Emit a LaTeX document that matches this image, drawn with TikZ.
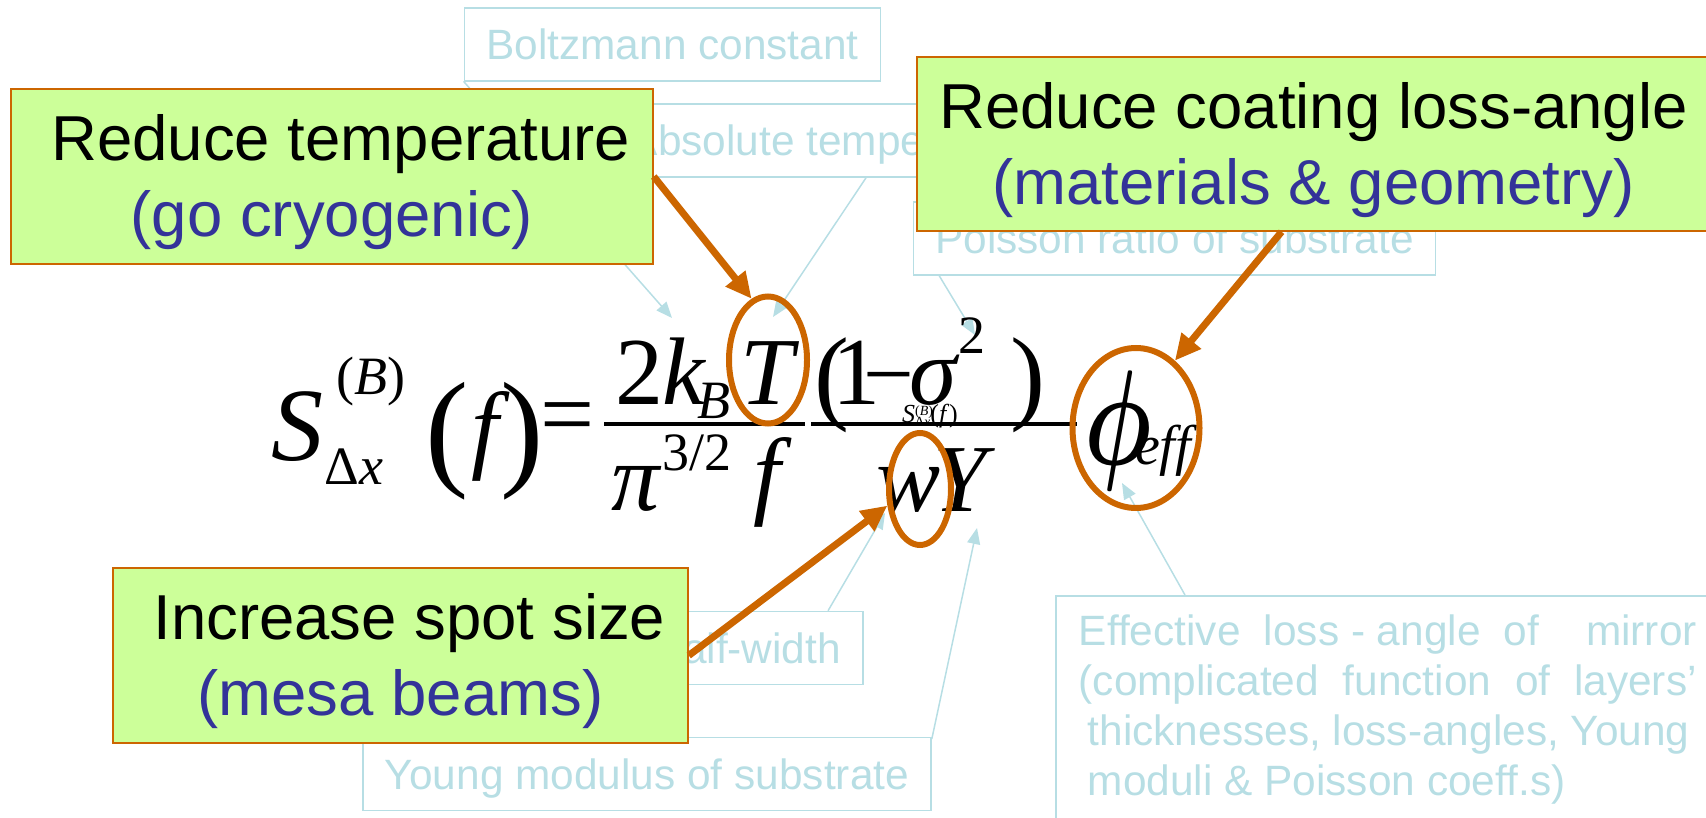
\documentclass[tikz,border=0pt]{standalone}
\usepackage{fontspec}
\setmainfont{Liberation Sans}
\newfontfamily\serif{Liberation Serif}
\usetikzlibrary{arrows.meta, shapes.geometric}
\definecolor{pale}{RGB}{183,222,228}
\definecolor{lime}{RGB}{204,255,153}
\definecolor{rust}{RGB}{204,102,0}
\definecolor{ink}{RGB}{51,51,153}
\tikzset{
  remark/.style={draw=pale, line width=1.5pt, text=pale, font=\fontsize{42.4}{50}\selectfont,
    inner xsep=22pt, minimum height=73pt, text height=30pt, text depth=0pt},
  note/.style={draw=pale, line width=1.5pt, text=pale, font=\fontsize{42.4}{50}\selectfont,
    align=left, inner xsep=23pt, inner ysep=19pt, anchor=north west},
  idea/.style={draw=rust, line width=1.5pt, fill=lime, align=center,
    font=\fontsize{63.5}{76}\selectfont, inner sep=0pt},
  ring/.style={ellipse, draw=rust, line width=6pt, inner sep=0pt},
  hint/.style={rust, line width=7pt, -{Triangle[length=26pt,width=24pt]}},
  pointer/.style={pale, line width=1.5pt, -{Triangle[length=16pt,width=13pt]}},
  bar/.style={line width=4pt}
}
\newcommand{\glyph}[5]{\node[anchor=base, inner sep=0pt, font=\serif\fontsize{#4}{#4}\selectfont] (#1) at (#2,#3) {#5};}
\newcommand{\lift}{\rule{0pt}{58pt}}

\begin{document}
\begin{tikzpicture}[x=1pt, y=-1pt]
  \useasboundingbox (0,0) rectangle (1706,818);

  % notes on the symbols
  \node[remark] (bolt) at (672.5,44.5) {Boltzmann constant};
  \node[remark] (abs) at (832.5,140.5) {Absolute temperature};
  \node[remark] (poisson) at (1174.5,238.5) {Poisson ratio of substrate};
  \node[remark] (half) at (689,648) {Beam half-width};
  \node[remark] (young) at (647,774) {Young modulus of substrate};
  \node[note] (effect) at (1055,595) {\makebox[618pt][l]{Effective\hfill loss - angle\hfill of\hfill\hfill mirror}\\
    \makebox[618pt][l]{(complicated\hfill function\hfill of\hfill layers’}\\
    \hspace*{9pt}thicknesses, loss-angles, Young\\
    \hspace*{9pt}moduli \& Poisson coeff.s)};

  \coordinate (kTip) at (672,318);
  \coordinate (TTip) at (773,317);
  \coordinate (sigTip) at (975,335);
  \coordinate (wTip) at (885,513);
  \coordinate (YTip) at (977,528);
  \coordinate (phiTip) at (1122,483);
  \draw[pointer] (bolt.190) -- (kTip);
  \draw[pointer] (abs.312) -- (TTip);
  \draw[pointer] (poisson.189) -- (sigTip);
  \draw[pointer] (half.15.6) -- (wTip);
  \draw[pointer] (young.7.5) -- (YTip);
  \draw[pointer] ([xshift=130pt]effect.north west) -- (phiTip);

  % the formula
  \glyph{S}{297}{460}{104}{\itshape S}
  \glyph{Ssup}{371}{394}{54}{(\textit{B})}
  \glyph{Ssub}{354}{484}{54}{Δ\textit{x}}
  \glyph{lpf}{447}{472}{130}{(}
  \glyph{f}{485}{460}{98}{\itshape f}
  \glyph{rpf}{522}{472}{130}{)}
  \glyph{eq}{568}{446}{96}{=}
  \draw[bar] (604,424) -- (805,424);
  \glyph{two}{639}{404}{96}{2}
  \glyph{k}{684}{404}{96}{\itshape k}
  \glyph{kB}{714}{418}{54}{\itshape B}
  \glyph{T}{767}{404}{96}{\itshape T}
  \glyph{pi}{636}{510}{96}{\itshape π}
  \glyph{pisup}{697}{470}{54}{3/2}
  \glyph{fden}{767}{506}{98}{\itshape f}
  \draw[bar] (811,424) -- (1077,424);
  \glyph{lp}{832}{410}{105}{(}
  \glyph{one}{856}{404}{96}{1}
  \glyph{minus}{889}{404}{90}{−}
  \glyph{sigma}{933}{404}{96}{\itshape σ}
  \glyph{sq}{972}{354}{54}{2}
  \glyph{rp}{1028}{410}{105}{)}
  \glyph{echo}{930}{422}{26}{\textit{S}\rlap{\raisebox{7pt}{\fontsize{14}{14}\selectfont(\textit{B})}}\raisebox{-4pt}{\fontsize{14}{14}\selectfont Δ\textit{x}}(\textit{f})}
  \glyph{w}{909}{511}{96}{\itshape w}
  \glyph{Y}{960}{511}{96}{\itshape Y}
  \glyph{phi}{1118}{464}{10}{\scalebox{9.45}[13.5]{\boldmath$\phi$}}
  \glyph{eff}{1163}{464}{56}{\itshape eff}

  % what to do about it
  \node[idea, minimum width=642pt, minimum height=175pt] (temp) at (332,176.5)
    {\lift\hspace*{0.28em}Reduce temperature\\ \textcolor{ink}{(go cryogenic)}};
  \node[idea, minimum width=793pt, minimum height=174pt] (loss) at (1313.5,144)
    {\lift Reduce coating loss-angle\\ \textcolor{ink}{(materials \& geometry)}};
  \node[idea, minimum width=575pt, minimum height=175pt] (spot) at (400.5,655.5)
    {\lift\hspace*{0.28em}Increase spot size\\ \textcolor{ink}{(mesa beams)}};

  \node[ring, minimum width=78pt, minimum height=127pt] (Tring) at (768,360) {};
  \node[ring, minimum width=62pt, minimum height=112pt] (wring) at (920,489) {};
  \node[ring, minimum width=127pt, minimum height=160pt] (phiring) at (1136,428) {};
  \draw[hint] (temp.east) -- (Tring.105);
  \draw[hint] (spot.east) -- (wring.207);
  \draw[hint] (loss.250) -- (phiring.60);
\end{tikzpicture}
\end{document}
